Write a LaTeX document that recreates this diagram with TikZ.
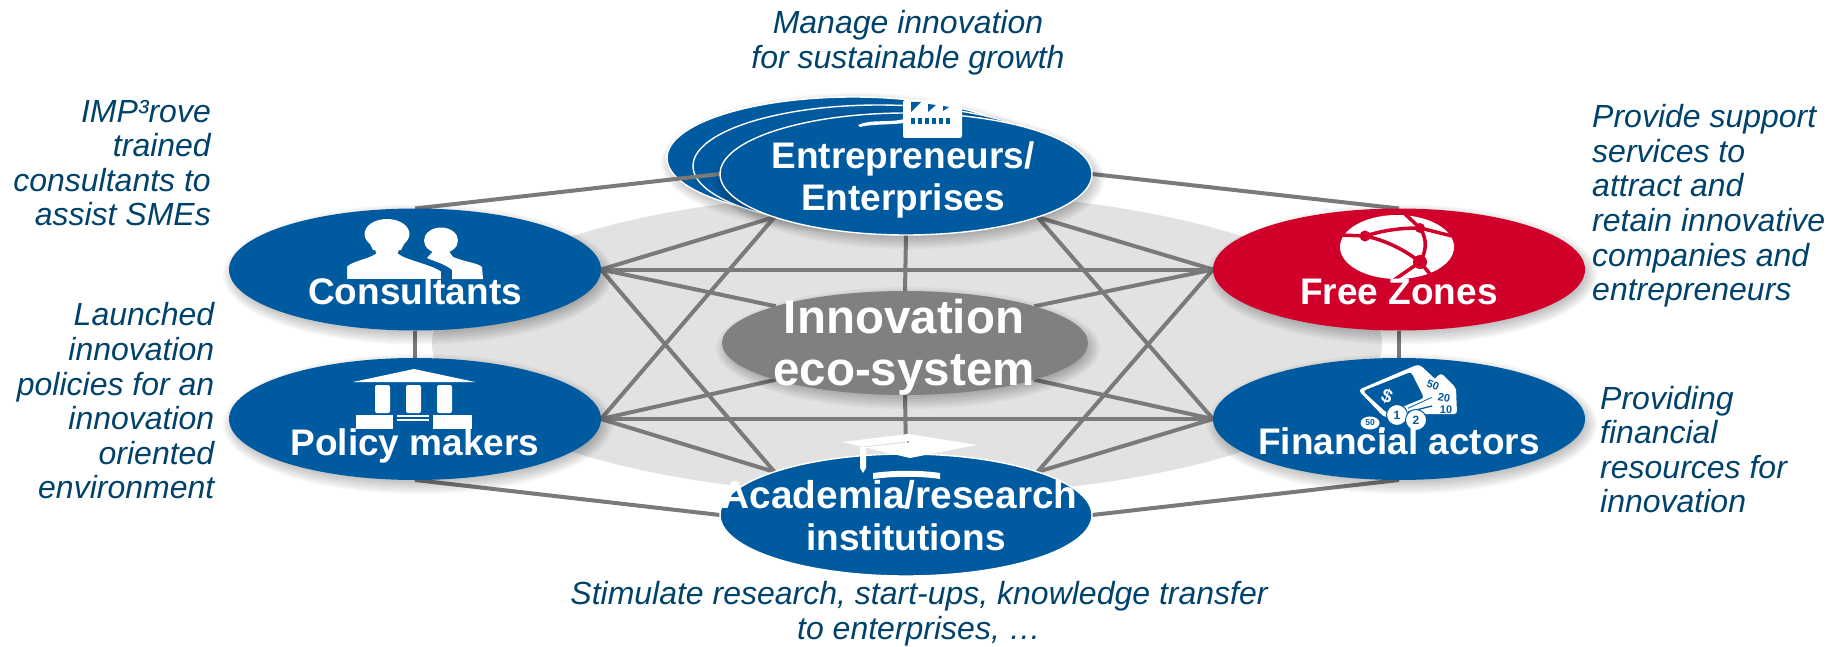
\documentclass[tikz,border=0pt]{standalone}
\usepackage{fontspec}
\setmainfont{Liberation Sans}
\usetikzlibrary{shapes.geometric}
\definecolor{ablue}{HTML}{005A9F}
\definecolor{ared}{HTML}{D0002A}
\definecolor{lgrey}{HTML}{E2E2E2}
\definecolor{mgrey}{HTML}{808080}
\definecolor{edgegrey}{HTML}{7A7A7A}
\definecolor{labcol}{HTML}{00426B}
\pgfdeclarelayer{back}
\pgfdeclarelayer{edge}
\pgfsetlayers{back,edge,main}
\newcommand{\softshad}[4]{%
  \foreach \k in {0,...,7}{
    \fill[black,opacity=0.035] ({#1+3},{#2+5}) ellipse [x radius={#3-5+2*\k}, y radius={#4-5+2*\k}];
  }}
\tikzset{
  actor/.style={ellipse,minimum width=372pt,minimum height=122pt,inner sep=0pt,outer sep=0pt,fill=ablue},
  actorline/.style={actor,draw=white,line width=1.4pt},
  link/.style={draw=edgegrey,line width=4pt},
  nodetext/.style={text=white,font=\bfseries\fontsize{37}{42}\selectfont,align=center,inner sep=0pt},
  hubtext/.style={text=white,font=\bfseries\fontsize{47.5}{52}\selectfont,align=center,inner sep=0pt},
  remark/.style={text=labcol,font=\itshape\fontsize{32}{34.6}\selectfont,inner sep=0pt},
  icon/.style={fill=white,draw=none}
}
\begin{document}
\begin{tikzpicture}[x=1pt,y=-1pt]
\useasboundingbox (0,0) rectangle (1827,647);
\begin{pgfonlayer}{back}
\fill[lgrey] (907,344) ellipse [x radius=475,y radius=152];
\softshad{853}{158}{186}{61}
% stacked sheets behind the enterprises
\node[actorline] (sheetA) at (853,158) {};
\node[actorline] (sheetB) at (879,166) {};
\end{pgfonlayer}

\node[actorline] (E) at (906,174) {};
\node[actor] (C) at (415,269.5) {};
\node[actor] (P) at (415,419) {};
\node[actor,fill=ared] (F) at (1399,269.5) {};
\node[actor] (A) at (1399,419) {};
\node[actorline] (R) at (906,515) {};
\node[ellipse,minimum width=366pt,minimum height=104pt,inner sep=0pt,outer sep=0pt,fill=mgrey] (M) at (905,343) {};

\begin{pgfonlayer}{edge}
\draw[link] (C.north) -- (E.west);
\draw[link] (E.east) -- (F.north);
\draw[link] (C.south) -- (P.north);
\draw[link] (F.south) -- (A.north);
\draw[link] (P.south) -- (R.west);
\draw[link] (A.south) -- (R.east);
\draw[link] (C.east) -- (F.west);
\draw[link] (P.east) -- (A.west);
\draw[link] (E.south) -- (M.north);
\draw[link] (M.south) -- (R.north);
\draw[link] (C.east) -- (E.south west);
\draw[link] (C.east) -- (M.north west);
\draw[link] (C.east) -- (R.north west);
\draw[link] (P.east) -- (E.south west);
\draw[link] (P.east) -- (M.south west);
\draw[link] (P.east) -- (R.north west);
\draw[link] (F.west) -- (E.south east);
\draw[link] (F.west) -- (M.north east);
\draw[link] (F.west) -- (R.north east);
\draw[link] (A.west) -- (E.south east);
\draw[link] (A.west) -- (M.south east);
\draw[link] (A.west) -- (R.north east);
\softshad{415}{269.5}{186}{61}
\softshad{415}{419}{186}{61}
\softshad{1399}{269.5}{186}{61}
\softshad{1399}{419}{186}{61}
\softshad{906}{174}{186}{61}
\softshad{905}{343}{183}{52}
\end{pgfonlayer}

% people icon
\fill[icon] (441,240.5) ellipse [x radius=17,y radius=13];
\fill[icon] (434,250) -- (448,250) -- (453,257) .. controls (465,262) and (478,263) .. (482,267) -- (483,279) -- (452,279) -- (452,270) .. controls (445,264) and (436,262) .. (427,258) -- cycle;
\fill[icon,draw=ablue,line width=2pt] (346,280) -- (346,266) .. controls (352,260) and (368,258) .. (375,253)
  -- (372,244) -- (402,244) -- (399,253) .. controls (406,259) and (434,264) .. (442,271) -- (442,280) -- cycle;
\fill[icon] (387,234) ellipse [x radius=22.5,y radius=15];
\fill[icon] (366,236) -- (408,236) -- (401,250) -- (373,250) -- cycle;

% columns icon
\fill[icon] (353,382) -- (414,369) -- (475,382) -- cycle;
\fill[icon,rounded corners=2pt] (375,385) rectangle (390,413);
\fill[icon,rounded corners=2pt] (406,385) rectangle (421,413);
\fill[icon,rounded corners=2pt] (437,385) rectangle (452,413);
\fill[icon] (356,415) rectangle (393,429);
\fill[icon] (433,415) rectangle (472,429);
\fill[icon] (397,415) rectangle (429,416.5);
\fill[icon] (397,419) rectangle (429,420.5);

% factory icon
\fill[icon,rounded corners=2pt] (903,100) rectangle (962,138);
\fill[icon] (858,125) .. controls (870,119) and (890,123) .. (904,119) -- (904,123) .. controls (890,125) and (870,124) .. (860,127) -- cycle;
\fill[ablue] (911,102) -- (921,102) -- (911,112) -- cycle;
\fill[ablue] (928,104) -- (936,105) -- (928,112) -- cycle;
\fill[ablue] (943,106) -- (949,107) -- (943,111) -- cycle;
\foreach \xx in {912,919,926,933,940,947}{\fill[ablue] (\xx-1,118) rectangle (\xx+3,124.5);}

% globe icon
\fill[icon] (1397,247) ellipse [x radius=57,y radius=32];
\begin{scope}[draw=ared,line width=3.5pt]
\draw (1340,235) -- (1365,236) .. controls (1385,230) and (1400,228) .. (1420,228) -- (1452,236);
\draw (1365,236) .. controls (1385,240) and (1405,250) .. (1420,262);
\draw (1405,214) -- (1420,228) .. controls (1428,240) and (1426,252) .. (1420,262) -- (1430,274);
\draw (1420,262) -- (1394,280);
\fill[ared] (1365,236) circle (5.5) (1420,262) circle (7) (1420,228) circle (5);
\end{scope}

% money icon
\fill[icon,rounded corners=3pt] (1400,411) -- (1441,373) -- (1456,388) -- (1457,414) -- (1402,414) -- cycle;
\draw[ablue,line width=1.3pt] (1408,408) -- (1432,397) (1408,412) -- (1432,406);
\fill[icon,rounded corners=4pt] (1358,390) -- (1419,364) -- (1447,390) -- (1385,418) -- cycle;
\fill[ablue,rounded corners=3pt] (1363,391) -- (1411,372) -- (1424,398) -- (1387,413) -- cycle;
\node[text=white,font=\bfseries\fontsize{19}{19}\selectfont,rotate=-20,inner sep=0pt] (dollar) at (1387,396) {\$};
\node[text=ablue,font=\bfseries\fontsize{11}{11}\selectfont,rotate=-22,inner sep=0pt] (nfifty) at (1433,385) {50};
\node[text=ablue,font=\bfseries\fontsize{11}{11}\selectfont,rotate=-10,inner sep=0pt] (ntwenty) at (1444,398) {20};
\node[text=ablue,font=\bfseries\fontsize{11}{11}\selectfont,inner sep=0pt] (nten) at (1446,410) {10};
\node[circle,fill=white,draw=ablue,line width=1pt,minimum size=21pt,inner sep=0pt,text=ablue,font=\bfseries\fontsize{12}{12}\selectfont] (coinA) at (1397,415) {1};
\node[circle,fill=white,draw=ablue,line width=1pt,minimum size=21pt,inner sep=0pt,text=ablue,font=\bfseries\fontsize{12}{12}\selectfont] (coinB) at (1416,420) {2};
\node[ellipse,fill=white,minimum width=19pt,minimum height=13pt,inner sep=0pt,text=ablue,font=\bfseries\fontsize{8.5}{8.5}\selectfont] (coinC) at (1370,423) {50};
\fill[icon] (1379,429) rectangle (1384,433);

% cap icon
\fill[icon] (842,442) -- (908,434) -- (977,445) -- (910,458) -- cycle;
\draw[lgrey,line width=1pt] (863,447) -- (907,442);
\fill[mgrey] (908,442) circle (1);
\fill[icon] (860,447) -- (866,447) -- (866,468) -- (863,473) -- (860,468) -- cycle;
\fill[icon] (873,473) .. controls (895,470) and (920,470) .. (940,473) -- (940,479) .. controls (920,476) and (895,476) .. (873,479) -- cycle;

% actor names
\node[nodetext] (tE) at (903,179.5) {Entrepreneurs/\\Enterprises};
\node[nodetext] (tC) at (415,291) {Consultants};
\node[nodetext] (tP) at (415,445.5) {Policy makers};
\node[nodetext] (tF) at (1399,292) {Free Zones};
\node[nodetext] (tA) at (1399,441) {Financial actors};
\node[nodetext] (tR) at (906,516) {{\fontsize{38.8}{42}\selectfont Academia/research\rule{13pt}{0pt}}\\institutions};
\node[hubtext] (tM) at (904,347.5) {Innovation\\eco-system};

% remarks
\node[remark,align=center] (r1) at (908,43) {Manage innovation\\for sustainable growth};
\node[remark,align=right,anchor=east] (r2) at (211,163) {IMP³rove\\trained\\consultants to\\assist SMEs};
\node[remark,align=right,anchor=east] (r3) at (214.5,401) {Launched\\innovation\\policies for an\\innovation\\oriented\\environment};
\node[remark,align=left,anchor=west] (r4) at (1592,206) {Provide support\\services to\\attract and\\retain innovative\\companies and\\entrepreneurs};
\node[remark,align=left,anchor=west] (r5) at (1600,449.5) {Providing\\financial\\resources for\\innovation};
\node[remark,align=center] (r6) at (919,614) {Stimulate research, start-ups, knowledge transfer\\to enterprises, …};
\end{tikzpicture}
\end{document}
